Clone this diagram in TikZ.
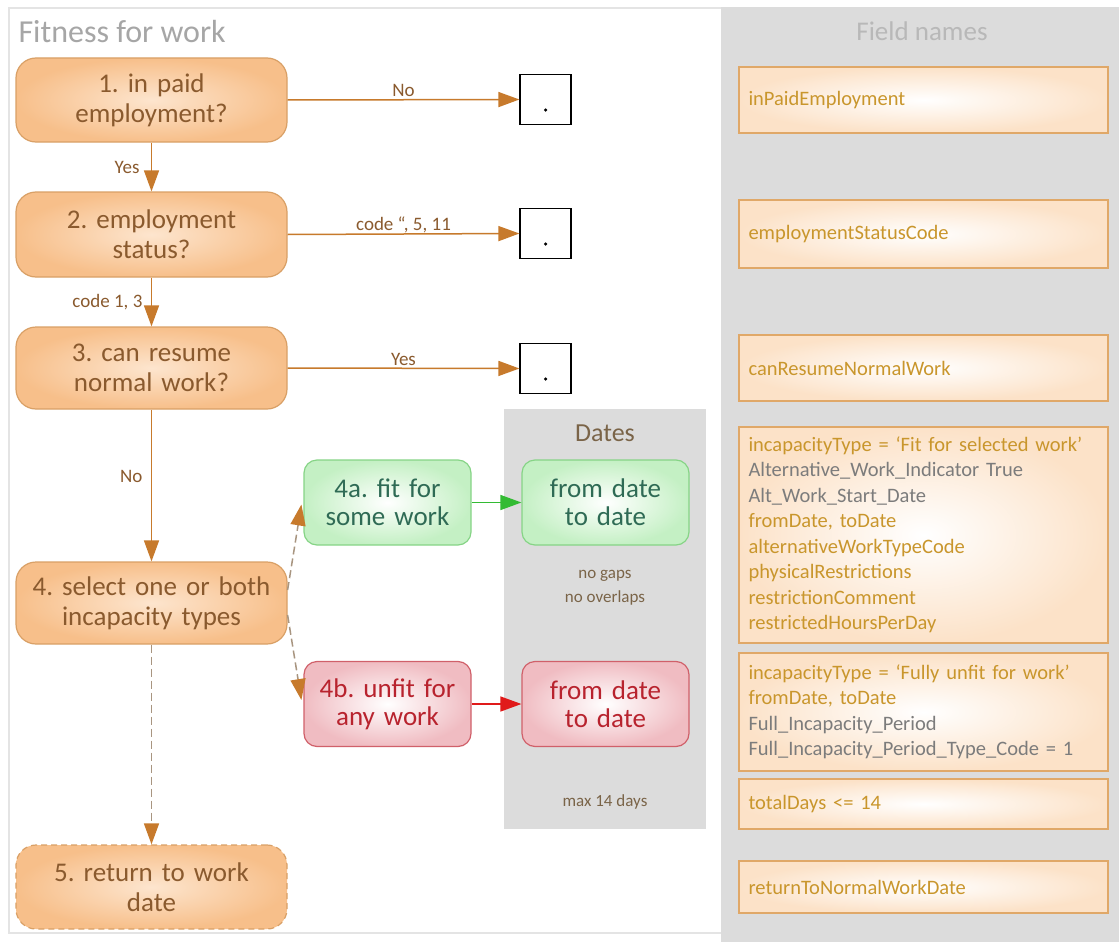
\documentclass[tikz,border=0pt]{standalone}
\usepackage{fontspec}
\setmainfont{Carlito}
\usetikzlibrary{arrows.meta}
\frenchspacing
\definecolor{obord}{HTML}{D9A066}
\definecolor{ofillout}{HTML}{F7BF8A}
\definecolor{ofillin}{HTML}{FDE5CE}
\definecolor{otext}{HTML}{8A5A2E}
\definecolor{oarrow}{HTML}{C77A2C}
\definecolor{dline}{HTML}{A89580}
\definecolor{gbord}{HTML}{86D486}
\definecolor{gfillout}{HTML}{C4F0C4}
\definecolor{gtext}{HTML}{2F6B55}
\definecolor{garrow}{HTML}{33BB33}
\definecolor{rbord}{HTML}{D0606A}
\definecolor{rfillout}{HTML}{F0BCC2}
\definecolor{rtext}{HTML}{B8232E}
\definecolor{rarrow}{HTML}{E01A1A}
\definecolor{panel}{HTML}{DCDCDC}
\definecolor{framec}{HTML}{E4E4E4}
\definecolor{gold}{HTML}{C9962C}
\definecolor{fgrey}{HTML}{7C7C7C}
\definecolor{fbord}{HTML}{E0A868}
\definecolor{ffill}{HTML}{FCE2C8}
\definecolor{titlec}{HTML}{A6A6A6}
\definecolor{notec}{HTML}{7A6448}
\tikzset{
  obox/.style={draw=obord, line width=1.2pt, rounded corners=20pt, shading=radial,
    inner color=ofillin, outer color=ofillout, minimum width=271pt, text width=262pt,
    align=center, text=otext, font=\fontsize{27}{30}\selectfont},
  gbox/.style={draw=gbord, line width=1.2pt, rounded corners=13pt, shading=radial,
    inner color=white, outer color=gfillout, minimum width=167pt, minimum height=85pt,
    text width=160pt, align=center, text=gtext, font=\fontsize{27}{28}\selectfont},
  rbox/.style={draw=rbord, line width=1.2pt, rounded corners=13pt, shading=radial,
    inner color=white, outer color=rfillout, minimum width=167pt, minimum height=85pt,
    text width=160pt, align=center, text=rtext, font=\fontsize{27}{28}\selectfont},
  endbox/.style={draw=black, line width=1.2pt, fill=white, minimum width=51pt, minimum height=50pt},
  dotmark/.style={circle, fill=black, inner sep=0pt, minimum size=3.5pt},
  fbox/.style={draw=fbord, line width=1.5pt, shading=radial, inner color=white, outer color=ffill,
    minimum width=369pt, text width=350pt, inner xsep=9.5pt, align=left, text=gold,
    font=\fontsize{20.5}{25.5}\selectfont},
  arr/.style={draw=oarrow, line width=1.5pt, -{Triangle[length=21pt,width=15pt]}},
  darr/.style={draw=dline, line width=1.5pt, dash pattern=on 8pt off 4pt,
    -{Triangle[length=21pt,width=15pt,color=oarrow]}},
  garr/.style={draw=garrow, line width=1.5pt, -{Triangle[length=21pt,width=15pt]}},
  rarr/.style={draw=rarrow, line width=1.5pt, -{Triangle[length=21pt,width=15pt]}},
  lab/.style={text=otext, font=\fontsize{19}{21}\selectfont},
  note/.style={text=notec, font=\fontsize{17}{24}\selectfont, align=center}
}
\begin{document}
\begin{tikzpicture}[x=1pt,y=-1pt]
\useasboundingbox (0,0) rectangle (1119,942);
\fill[white] (0,0) rectangle (1119,942);
% frames and panels
\fill[panel] (721,7) rectangle (1119,942);
\draw[framec, line width=1.2pt] (721,8) -- (9,8) -- (9,933) -- (721,933);
\fill[panel] (503.5,409) rectangle (706,829);
% titles
\node[anchor=west, text=titlec, font=\fontsize{32}{34}\selectfont] (title) at (15,32) {Fitness for work};
\node[text=titlec!80, font=\fontsize{27}{29}\selectfont] (fnames) at (922,31) {Field names};
\node[text=notec, font=\fontsize{26}{28}\selectfont] (dates) at (605,433) {Dates};
% main nodes
\node[obox, minimum height=84pt] (n1) at (151.5,100) {1. in paid\\employment?};
\node[obox, minimum height=85pt] (n2) at (151.5,234.5) {2. employment\\status?};
\node[obox, minimum height=82pt] (n3) at (151.5,368) {3. can resume\\normal work?};
\node[obox, minimum height=82pt] (n4) at (151.5,603) {4. select one or both\\incapacity types};
\node[obox, minimum height=84pt, dash pattern=on 6pt off 4pt] (n5) at (151.5,887) {5. return to work\\date};
% end boxes
\node[endbox] (b1) at (545.5,99.5) {};
\node[endbox] (b2) at (545.5,233.5) {};
\node[endbox] (b3) at (545.5,368.5) {};
\node[dotmark] (d1) at (545.5,110) {};
\node[dotmark] (d2) at (545.5,244) {};
\node[dotmark] (d3) at (545.5,379) {};
% incapacity nodes
\node[gbox] (n4a) at (387.5,502.5) {4a. fit for\\some work};
\node[gbox] (g4a) at (605.5,502.5) {from date\\to date};
\node[rbox] (n4b) at (387.5,704) {4b. unfit for\\any work};
\node[rbox] (r4b) at (605.5,704) {from date\\to date};
\node[note] (gaps) at (605,588) {no gaps\\no overlaps};
\node[note] (max) at (605,802) {max 14 days};
% connectors
\draw[arr] (n1) -- node[lab, left, xshift=-8pt]{Yes} (n2);
\draw[arr] (n2) -- node[lab, left, xshift=-5pt]{code 1, 3} (n3);
\draw[arr] (n3) -- node[lab, left, pos=0.44, xshift=-5pt]{No} (n4);
\draw[arr] (n1.east) -- node[lab, above, inner sep=2pt]{No} (b1.west);
\draw[arr] (n2.east) -- node[lab, above, inner sep=0pt]{code “, 5, 11} (b2.west);
\draw[arr] (n3.east) -- node[lab, above, inner sep=2pt]{Yes} (b3.west);
\draw[darr] ([yshift=13pt]n4.east) -- ([xshift=-2pt,yshift=-2pt]n4a.west);
\draw[darr] ([yshift=-12pt]n4.east) -- ([xshift=-2pt,yshift=4pt]n4b.west);
\draw[darr] (n4) -- (n5);
\draw[garr] (n4a) -- (g4a);
\draw[rarr] (n4b) -- (r4b);
% field boxes
\node[fbox, minimum height=66pt] (fa) at (923.5,100) {inPaidEmployment};
\node[fbox, minimum height=68pt] (fb) at (923.5,234) {employmentStatusCode};
\node[fbox, minimum height=66pt] (fc) at (923.5,368) {canResumeNormalWork};
\node[fbox, minimum height=216pt] (fd) at (923.5,535) {incapacityType = ‘Fit for selected work’\\
  \textcolor{fgrey}{Alternative\_Work\_Indicator True}\\
  \textcolor{fgrey}{Alt\_Work\_Start\_Date}\\
  fromDate, toDate\\
  alternativeWorkTypeCode\\
  physicalRestrictions\\
  restrictionComment\\
  restrictedHoursPerDay};
\node[fbox, minimum height=118pt] (fe) at (923.5,712) {incapacityType = ‘Fully unfit for work’\\
  fromDate, toDate\\
  \textcolor{fgrey}{Full\_Incapacity\_Period}\\
  \textcolor{fgrey}{Full\_Incapacity\_Period\_Type\_Code = 1}};
\node[fbox, minimum height=50pt] (ff) at (923.5,804) {totalDays <= 14};
\node[fbox, minimum height=52pt] (fg) at (923.5,887) {returnToNormalWorkDate};
\end{tikzpicture}
\end{document}
